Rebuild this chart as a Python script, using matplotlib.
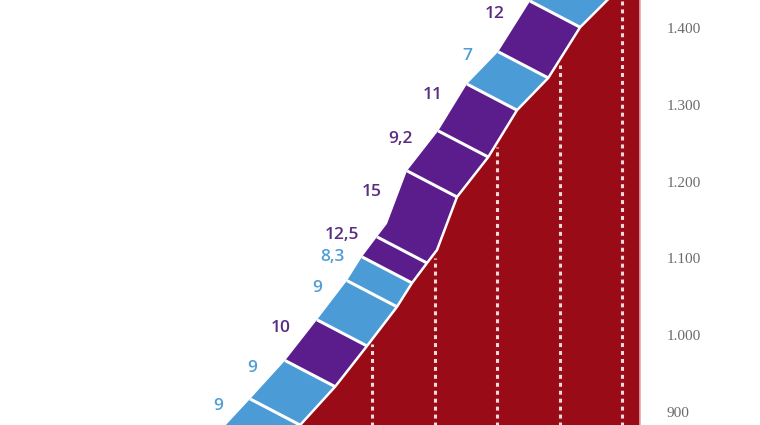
import numpy as np
import matplotlib
matplotlib.use("Agg")
import matplotlib.pyplot as plt

# profile break points: distance (km) and altitude (m)
profile_km = [6.29, 6.85, 7.41, 7.92, 8.40, 8.64, 8.88, 9.04, 9.36, 9.86, 10.32, 10.82, 11.33, 12.45]
profile_alt = [834, 883, 933, 986, 1037, 1068, 1094, 1111, 1180, 1232, 1293, 1335, 1401, 1492]

# slope segments (index of the break points where each one starts / ends)
seg_break = [0, 1, 2, 3, 4, 5, 6, 8, 9, 10, 11, 12, 13]
grades = [9, 9, 10, 9, 8.3, 12.5, 15, 9.2, 11, 7, 12, 8]

km_marks = [8, 9, 10, 11, 12]
alt_ticks = [900, 1000, 1100, 1200, 1300, 1400]

RED = "#990c17"
BLUE = "#4b9bd6"
PURPLE = "#5a1d8b"
BLUE_TXT = "#4f9fd6"
PURPLE_TXT = "#5a2d82"

# band is the profile shifted up-left by a fixed vector (data units)
BAND_DX, BAND_DY = -0.8, 34.0

fig = plt.figure(figsize=(7.6, 4.25), dpi=100)
ax = fig.add_axes([0, 0, 640 / 760, 1])
ax.set_xlim(8 - 372 / 62.5, 8 + 268 / 62.5)
ax.set_ylim(900 - 13 / 0.768, 900 + 412 / 0.768)

km = np.array(profile_km)
alt = np.array(profile_alt)

# red mountain
fx = np.concatenate([km, [14]])
fy = np.concatenate([alt, [alt[-1] + 200]])
ax.fill_between(fx, fy, 700, color=RED, lw=0, zorder=1)

# dashed km lines
for m in km_marks:
    top = np.interp(m, km, alt) - 6
    ax.plot([m, m], [700, top], color="#f4dada", lw=2.2,
            linestyle=(0, (1.3, 1.3)), zorder=2)

# slope bands
for i, g in enumerate(grades):
    a, b = seg_break[i], seg_break[i + 1]
    xs = km[a:b + 1]
    ys = alt[a:b + 1]
    px = np.concatenate([xs, xs[::-1] + BAND_DX])
    py = np.concatenate([ys, ys[::-1] + BAND_DY])
    col = PURPLE if g > 9 else BLUE
    ax.fill(px, py, color=col, lw=0, zorder=3)

    mx = (xs[0] + xs[-1]) / 2 + BAND_DX
    my = (ys[0] + ys[-1]) / 2 + BAND_DY
    txt = f"{g:g}".replace(".", ",")
    ax.annotate(txt, (mx, my), xytext=(-10, 12), textcoords="offset pixels",
                ha="right", va="center", fontsize=12.5, fontweight="semibold",
                family="Open Sans", color=PURPLE_TXT if g > 9 else BLUE_TXT,
                zorder=5)

# separators between segments
for idx in seg_break:
    ax.plot([km[idx], km[idx] + BAND_DX], [alt[idx], alt[idx] + BAND_DY],
            color="white", lw=2.2, solid_capstyle="butt", zorder=4)

ax.plot(km, alt, color="white", lw=1.8, zorder=4)

ax.set_xticks([])
ax.yaxis.tick_right()
ax.set_yticks(alt_ticks)
ax.set_yticklabels([f"{v:,}".replace(",", ".") for v in alt_ticks],
                   family="Liberation Serif", fontsize=11, color="#6b6b6b")
ax.tick_params(axis="y", length=0, pad=19)
for s in ["top", "left", "bottom"]:
    ax.spines[s].set_visible(False)
ax.spines["right"].set_color("#e3a9ac")
ax.spines["right"].set_linewidth(1.2)

fig.savefig("out.png", dpi=100)
